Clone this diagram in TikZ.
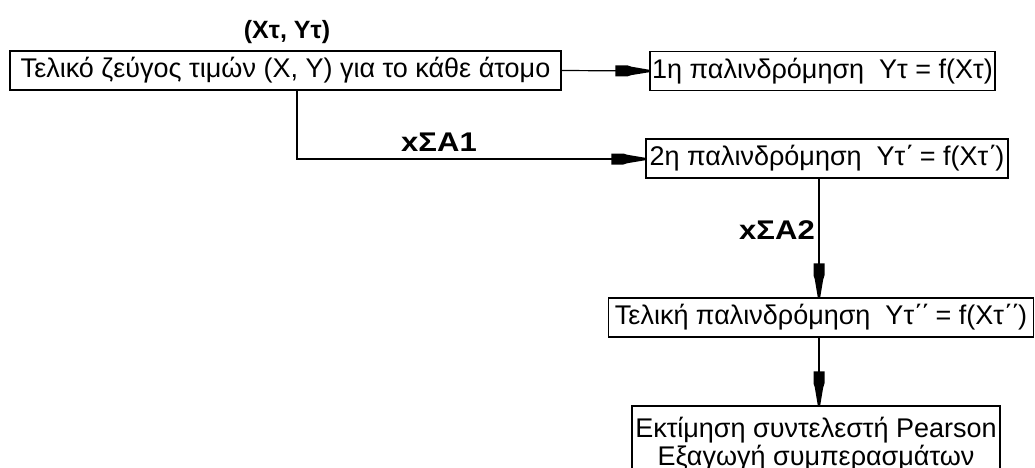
\documentclass[tikz,border=0pt]{standalone}
\usepackage{fontspec}
\setmainfont{Liberation Sans}
\usetikzlibrary{arrows.meta}
\pgfdeclarearrow{
  name = Wedge,
  parameters = {},
  setup code = {
    \pgfarrowssettipend{0pt}
    \pgfarrowssetbackend{-34pt}
    \pgfarrowssetlineend{-20pt}
    \pgfarrowsupperhullpoint{-34pt}{5.5pt}
    \pgfarrowsupperhullpoint{0pt}{1.2pt}
  },
  drawing code = {
    \pgfpathmoveto{\pgfqpoint{0pt}{1.2pt}}
    \pgfpathlineto{\pgfqpoint{-18pt}{4.2pt}}
    \pgfpathlineto{\pgfqpoint{-22pt}{5.5pt}}
    \pgfpathlineto{\pgfqpoint{-34pt}{5.5pt}}
    \pgfpathlineto{\pgfqpoint{-34pt}{-5.5pt}}
    \pgfpathlineto{\pgfqpoint{-22pt}{-5.5pt}}
    \pgfpathlineto{\pgfqpoint{-18pt}{-4.2pt}}
    \pgfpathlineto{\pgfqpoint{0pt}{-1.2pt}}
    \pgfpathclose
    \pgfusepathqfill
  }
}
\newcommand{\tpr}{΄\kern-2pt}
\begin{document}
\begin{tikzpicture}[x=1pt,y=-1pt,
  box/.style={draw=black,line width=1.2pt,inner sep=0pt,minimum height=39pt,font=\fontsize{27}{31}\selectfont},
  lbl/.style={font=\bfseries\fontsize{25}{30}\selectfont,inner sep=0pt},
  conn/.style={line width=1.2pt,-{Wedge[]}}]
\useasboundingbox (0,0) rectangle (1035,468);
\node[box,minimum width=551pt] (b0) at (285.5,70.5) {Τελικό ζεύγος τιμών (Χ, Υ) για το κάθε άτομο};
\node[box,minimum width=345pt] (b1) at (822.5,71) {1η παλινδρόμηση\ \ Υτ = f(Χτ)};
\node[box,minimum width=362pt] (b2) at (827,158.5) {2η παλινδρόμηση\ \ Υτ\tpr{} = f(Χτ\tpr)};
\node[box,minimum width=425pt] (b3) at (821,317.5) {Τελική παλινδρόμηση\ \ Υτ\tpr\tpr{} = f(Χτ\tpr\tpr)};
\node[box,minimum width=368pt,minimum height=76pt,align=center,font=\fontsize{27}{28}\selectfont] (b4) at (816,444) {Εκτίμηση συντελεστή Pearson\\Εξαγωγή συμπερασμάτων};
\node[lbl] (l0) at (287,32) {(Χτ, Υτ)};
\node[lbl,font=\bfseries\fontsize{27}{30}\selectfont] (l1) at (439,142) {\scalebox{1.15}[1]{xΣΑ1}};
\node[lbl,font=\bfseries\fontsize{27}{30}\selectfont,anchor=east] (l2) at (815,230) {\scalebox{1.15}[1]{xΣΑ2}};
\coordinate (c0) at (297,159);
\draw[conn] (b0.east) -- (b1.west);
\draw[conn] (b0.south -| c0) -- (c0) -- (b2.west |- c0);
\draw[conn] (b2.south -| 819,0) -- (b3.north -| 819,0);
\draw[conn] (b3.south -| 819,0) -- (b4.north -| 819,0);
\end{tikzpicture}
\end{document}
